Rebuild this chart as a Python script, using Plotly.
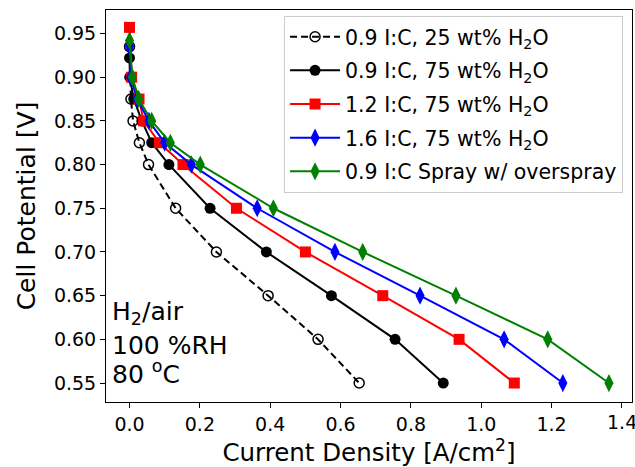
import plotly.graph_objects as go

# Polarization curves: cell potential vs current density for each ink
voltage_25 = [0.935, 0.90, 0.875, 0.85, 0.825, 0.80, 0.75, 0.70, 0.65, 0.60, 0.55]
current_25 = [0.000, 0.002, 0.004, 0.010, 0.028, 0.054, 0.131, 0.247, 0.394, 0.536, 0.653]

voltage_09 = [0.922, 0.90, 0.875, 0.85, 0.825, 0.80, 0.75, 0.70, 0.65, 0.60, 0.55]
current_09 = [0.000, 0.001, 0.012, 0.035, 0.063, 0.112, 0.229, 0.389, 0.574, 0.755, 0.892]

voltage_12 = [0.957, 0.90, 0.875, 0.85, 0.825, 0.80, 0.75, 0.70, 0.65, 0.60, 0.55]
current_12 = [0.000, 0.006, 0.027, 0.040, 0.085, 0.152, 0.304, 0.500, 0.720, 0.937, 1.094]

voltage_16 = [0.935, 0.90, 0.875, 0.85, 0.825, 0.80, 0.75, 0.70, 0.65, 0.60, 0.55]
current_16 = [0.000, 0.003, 0.022, 0.055, 0.100, 0.176, 0.363, 0.584, 0.826, 1.065, 1.232]

voltage_spray = [0.942, 0.90, 0.875, 0.85, 0.825, 0.80, 0.75, 0.70, 0.65, 0.60, 0.55]
current_spray = [0.000, 0.008, 0.026, 0.063, 0.116, 0.201, 0.409, 0.663, 0.928, 1.189, 1.363]

labels = [
    "0.9 I:C, 25 wt% H<sub>2</sub>O",
    "0.9 I:C, 75 wt% H<sub>2</sub>O",
    "1.2 I:C, 75 wt% H<sub>2</sub>O",
    "1.6 I:C, 75 wt% H<sub>2</sub>O",
    "0.9 I:C Spray w/ overspray",
]

# Current-density ticks; the last label sits at the figure's right edge
x_ticks = [0.0, 0.2, 0.4, 0.6, 0.8, 1.0, 1.2, 1.4]
x_tick_text = ["0.0", "0.2", "0.4", "0.6", "0.8", "1.0", "1.2", "1.4"]

# Test conditions, one line each
conditions = ["H<sub>2</sub>/air", "100 %RH", "80 <sup>o</sup>C"]
condition_y = [0.630, 0.5935, 0.5615]

FONT = "DejaVu Sans"

fig = go.Figure()

fig.add_trace(go.Scatter(
    x=current_25, y=voltage_25, mode="lines+markers", name=labels[0], legendgroup="a",
    line=dict(color="black", width=2, dash="7px,4px"),
    marker=dict(symbol="circle-open", size=10, color="black", line=dict(width=1.5)),
))
fig.add_trace(go.Scatter(
    x=current_09, y=voltage_09, mode="lines+markers", name=labels[1], legendgroup="b",
    line=dict(color="black", width=2),
    marker=dict(symbol="circle", size=11, color="black"),
))
fig.add_trace(go.Scatter(
    x=current_12, y=voltage_12, mode="lines+markers", name=labels[2], legendgroup="c",
    line=dict(color="red", width=2),
    marker=dict(symbol="square", size=11, color="red"),
))
fig.add_trace(go.Scatter(
    x=current_16, y=voltage_16, mode="lines+markers", name=labels[3], legendgroup="d",
    line=dict(color="blue", width=2),
    marker=dict(symbol="diamond-tall", size=13, color="blue"),
))
fig.add_trace(go.Scatter(
    x=current_spray, y=voltage_spray, mode="lines+markers", name=labels[4], legendgroup="e",
    line=dict(color="green", width=2),
    marker=dict(symbol="diamond-tall", size=13, color="green"),
))

for text, yv in zip(conditions, condition_y):
    fig.add_annotation(
        text=text, xref="paper", yref="y", x=0.008, y=yv,
        xanchor="left", yanchor="middle", align="left", showarrow=False,
        font=dict(family=FONT, size=25, color="black"),
    )

# Plotly drops a tick label that runs past the page edge, so the last one
# is written as a note under its tick
fig.add_annotation(
    text=x_tick_text[-1], xref="x", yref="paper", x=x_ticks[-1], y=-0.051,
    xanchor="center", yanchor="middle", showarrow=False,
    font=dict(family=FONT, size=19, color="black"),
)

axis_common = dict(
    showline=True, linecolor="black", linewidth=1, mirror=True,
    ticks="outside", ticklen=5, tickwidth=1, tickcolor="black",
    showgrid=False, zeroline=False,
    tickfont=dict(family=FONT, size=19, color="black"),
)

fig.update_layout(
    width=635, height=467,
    margin=dict(l=106, r=3, t=10, b=65),
    paper_bgcolor="white", plot_bgcolor="white",
    font=dict(family=FONT, color="black"),
    xaxis=dict(
        range=[-0.0669, 1.4286], tickmode="array", tickvals=x_ticks,
        ticktext=x_tick_text[:-1] + [""],
        title=dict(text="Current Density [A/cm<sup>2</sup>]",
                   font=dict(family=FONT, size=24.5, color="black"), standoff=6),
        **axis_common,
    ),
    yaxis=dict(
        range=[0.5283, 0.9769], tick0=0.55, dtick=0.05, tickformat=".2f",
        title=dict(text="Cell Potential [V]",
                   font=dict(family=FONT, size=25, color="black"), standoff=11),
        **axis_common,
    ),
    legend=dict(
        x=0.983, y=0.985, xanchor="right", yanchor="top",
        bgcolor="white", bordercolor="#cccccc", borderwidth=1,
        font=dict(family=FONT, size=20.5, color="black"),
        tracegroupgap=4, itemwidth=50,
    ),
    showlegend=True,
)

fig.write_html("out.html")
